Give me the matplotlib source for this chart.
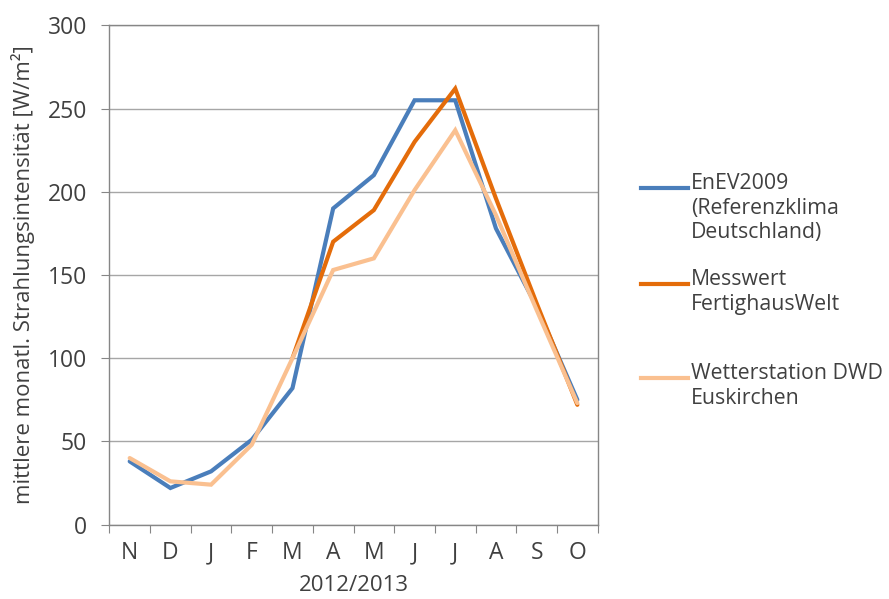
import numpy as np
import matplotlib.pyplot as plt
from matplotlib.lines import Line2D

plt.rcParams['font.family'] = ['Open Sans', 'DejaVu Sans']

# Monatswerte Nov 2012 - Okt 2013
monate = ['N', 'D', 'J', 'F', 'M', 'A', 'M', 'J', 'J', 'A', 'S', 'O']
enev2009 = [38, 22, 32, 51, 82, 190, 210, 255, 255, 178, 131, 75]
messwert = [np.nan, np.nan, np.nan, np.nan, 100, 170, 189, 230, 262, 196, 133, 72]
dwd_euskirchen = [40, 26, 24, 48, 100, 153, 160, 201, 237, 186, 129, 73]

namen = ['EnEV2009\n(Referenzklima\nDeutschland)',
         'Messwert\nFertighausWelt',
         'Wetterstation DWD\nEuskirchen']
farben = ['#4A7EBB', '#E46C0A', '#FAC090']

textfarbe = '#404040'
achsenfarbe = '#868686'

fig = plt.figure(figsize=(8.89, 5.99), dpi=100)
ax = fig.add_axes([0.123, 0.1242, 0.5493, 0.8334])

x = np.arange(len(monate))
for werte, farbe in zip([enev2009, messwert, dwd_euskirchen], farben):
    ax.plot(x, werte, color=farbe, lw=3.0, solid_capstyle='round',
            solid_joinstyle='miter', zorder=3)

ax.set_xlim(-0.5, len(monate) - 0.5)
ax.set_ylim(0, 300)
ax.set_yticks(range(0, 301, 50))
ax.yaxis.grid(True, color='#A6A6A6', lw=1.0)
ax.set_axisbelow(True)

# Kategorien mittig, Teilstriche zwischen den Monaten
ax.set_xticks(np.arange(-0.5, len(monate), 1.0))
ax.set_xticklabels([])
ax.set_xticks(x, minor=True)
ax.set_xticklabels(monate, minor=True)
ax.tick_params(axis='x', which='minor', length=0, pad=12)
ax.tick_params(axis='x', which='major', length=6, color=achsenfarbe, direction='out')
ax.tick_params(axis='y', length=6, color=achsenfarbe, direction='out', pad=10)
ax.tick_params(axis='both', which='both', labelsize=16.5, labelcolor=textfarbe)

for s in ax.spines.values():
    s.set_color(achsenfarbe)
    s.set_linewidth(1.0)

ax.set_xlabel('2012/2013', fontsize=16.0, color=textfarbe, labelpad=7)
ax.set_ylabel('mittlere monatl. Strahlungsintensität [W/m²]', fontsize=16.0,
              color=textfarbe, labelpad=9)

# Legende rechts neben dem Diagramm
leg_y = [188, 284, 378]
for name, farbe, yp in zip(namen, farben, leg_y):
    yf = 1 - yp / 599
    fig.add_artist(Line2D([641 / 889, 688 / 889], [yf, yf], color=farbe, lw=3.0,
                          transform=fig.transFigure))
    fig.text(691 / 889, yf + 15 / 599, name, fontsize=15.3, color=textfarbe,
             va='top', ha='left', linespacing=1.22)

fig.savefig('out.png', dpi=100)
